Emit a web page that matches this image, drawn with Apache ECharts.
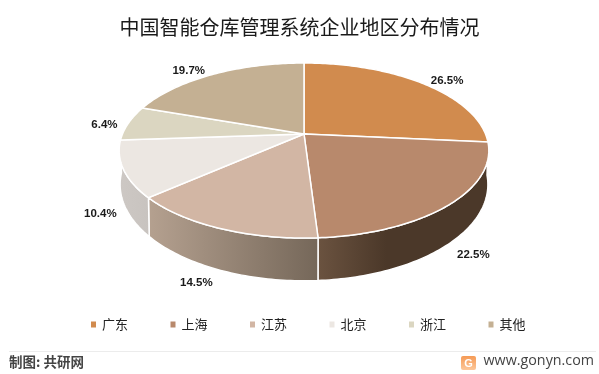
<!DOCTYPE html>
<html>
<head>
<meta charset="utf-8">
<style>html,body{margin:0;padding:0;background:#fff}#main{width:599px;height:374px}</style>
<script src="https://cdn.jsdelivr.net/npm/echarts@6/dist/echarts.min.js"></script>
</head>
<body>
<div id="main"></div>
<script>
var titleText = '中国智能仓库管理系统企业地区分布情况';
var regions = ['广东', '上海', '江苏', '北京', '浙江', '其他'];
var shares = [26.5, 22.5, 14.5, 10.4, 6.4, 19.7];
var footLeft = '制图: 共研网';
var footRight = 'www.gonyn.com';

var topColors = ['#d18b4e', '#b8896c', '#d2b6a4', '#ece7e2', '#dbd6c1', '#c4b093'];
var sideColors = [
	null,
	[[0, '#6b5340'], [0.4, '#4b3829'], [1, '#4b3829']],
	[[0, '#b5a190'], [1, '#756759']],
	[[0, '#cdc8c4'], [1, '#c8c3bf']],
	null,
	null
];

var font = '"Noto Sans CJK SC", sans-serif';
var myChart = echarts.init(document.getElementById('main'));

// 圆盘透视投影，角度从正上方顺时针
function topPoint(deg){
	var a = deg * Math.PI / 180;
	var u = Math.sin(a), v = Math.cos(a);
	var w = 1 + 0.1886 * v;
	return [304 + 181.5 * u / w, 134 - 84.4 * v / w];
}
// 底面：比顶面略向下拉伸
function bottomPoint(deg){
	var p = topPoint(deg);
	return [304 + (p[0] - 304) * 0.995, p[1] * 1.1 + 19];
}
function startAngle(index){
	var total = 0, sum = 0;
	shares.forEach(function(s, i){
		total += s;
		if(i < index){ sum += s; }
	});
	return sum / total * 360;
}

function renderSlice(index){
	return function(params, api){
		var from = startAngle(index);
		var to = from + api.value(0) / 100 * 360;
		var children = [];
		var d;
		if(sideColors[index]){
			var sideFrom = Math.max(from, 90), sideTo = Math.min(to, 270);
			var upper = [], lower = [];
			for(d = sideFrom; d < sideTo; d += 1){
				upper.push(topPoint(d));
				lower.unshift(bottomPoint(d));
			}
			upper.push(topPoint(sideTo));
			lower.unshift(bottomPoint(sideTo));
			children.push({
				type: 'polygon',
				shape: {points: upper.concat(lower)},
				style: {
					fill: new echarts.graphic.LinearGradient(0, 0, 1, 0, sideColors[index].map(function(c){
						return {offset: c[0], color: c[1]};
					})),
					stroke: '#fff',
					lineWidth: 1.5
				}
			});
		}
		var pts = [[304, 134]];
		for(d = from; d < to; d += 1){
			pts.push(topPoint(d));
		}
		pts.push(topPoint(to));
		children.push({
			type: 'polygon',
			shape: {points: pts},
			style: {fill: topColors[index], stroke: '#fff', lineWidth: 1.5}
		});
		// 数值标签放在外缘
		var mid = (from + to) / 2;
		var front = mid > 90 && mid < 270;
		var edge = front ? bottomPoint(mid) : topPoint(mid);
		var side = mid < 180 ? 1 : -1;
		var cosv = Math.cos(mid * Math.PI / 180);
		children.push({
			type: 'text',
			z2: 10,
			style: {
				x: edge[0] + side * 24,
				y: edge[1] + (front ? 5.5 : 2.5) - 8 * cosv,
				text: api.value(0).toFixed(1) + '%',
				align: 'center',
				verticalAlign: 'middle',
				fill: '#1a1a1a',
				font: 'bold 11.5px "Liberation Sans", sans-serif'
			}
		});
		return {type: 'group', children: children};
	};
}

var seriesList = regions.map(function(name, i){
	return {
		name: name,
		type: 'custom',
		coordinateSystem: 'none',
		silent: true,
		animation: false,
		itemStyle: {color: topColors[i]},
		renderItem: renderSlice(i),
		data: [[shares[i]]]
	};
});

var option = {
	animation: false,
	title: {
		text: titleText,
		left: 'center',
		top: 12,
		textStyle: {fontFamily: font, fontSize: 20, fontWeight: 'normal', color: '#1a1a1a'}
	},
	legend: {
		data: regions,
		left: 86,
		top: 313,
		icon: 'rect',
		itemWidth: 5,
		itemHeight: 6,
		itemGap: 42.5,
		textStyle: {fontFamily: font, fontSize: 13, color: '#222', padding: [0, 0, 0, 1]}
	},
	graphic: [
		{type: 'rect', shape: {x: 9, y: 351, width: 587, height: 1}, style: {fill: '#ececec'}},
		{type: 'text', style: {x: 9, y: 362, text: footLeft, verticalAlign: 'middle', fill: '#444', font: 'bold 13.5px ' + font}},
		{type: 'rect', shape: {x: 461, y: 356, width: 15, height: 14, r: 2}, style: {
			fill: new echarts.graphic.LinearGradient(0, 0, 0, 1, [{offset: 0, color: '#f59a55'}, {offset: 1, color: '#fcc79a'}])
		}},
		{type: 'text', style: {x: 468.5, y: 363.5, text: 'G', align: 'center', verticalAlign: 'middle', fill: '#fff', font: 'bold 11px "Liberation Sans", sans-serif'}},
		{type: 'text', style: {x: 594, y: 361, text: footRight, align: 'right', verticalAlign: 'middle', fill: '#444', font: '14.3px "Open Sans", sans-serif'}}
	],
	series: seriesList
};
myChart.setOption(option);
</script>
</body>
</html>
